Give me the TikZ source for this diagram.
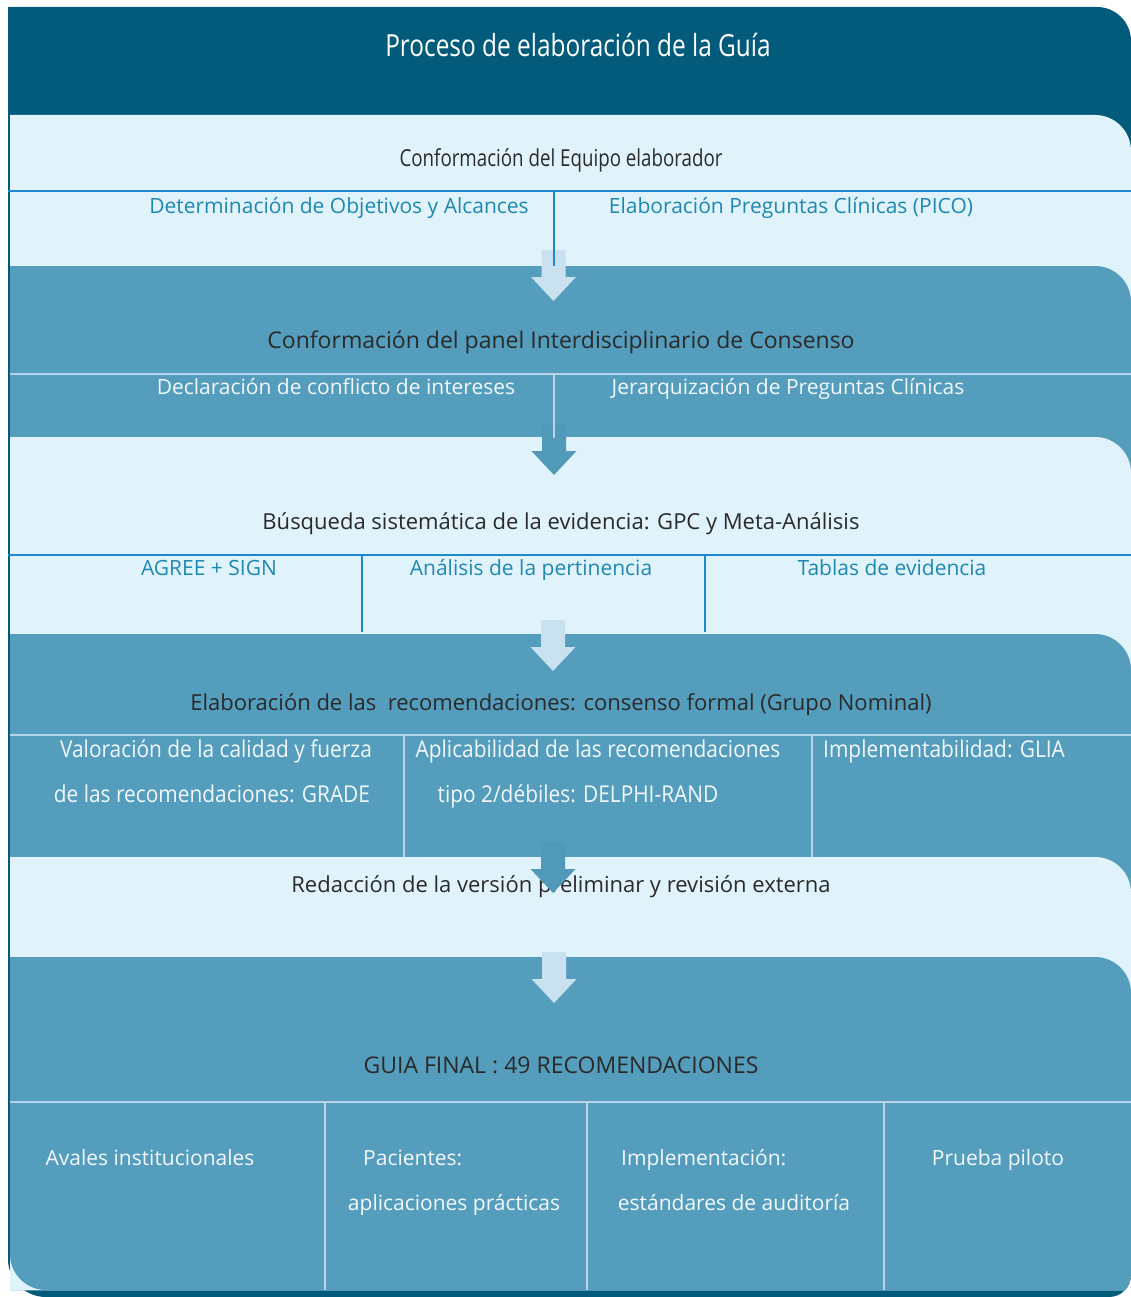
\documentclass[tikz,border=0pt]{standalone}
\usepackage{fontspec}
\setmainfont{Open Sans}
\newfontfamily\condfont[FakeStretch=0.8]{Open Sans}
\newfontfamily\semicond[FakeStretch=0.9]{Open Sans}
\definecolor{darkblue}{HTML}{035B7C}
\definecolor{lightband}{HTML}{E0F2FA}
\definecolor{midband}{HTML}{559DBC}
\definecolor{blueline}{HTML}{1E88CC}
\definecolor{paleline}{HTML}{B6D3EA}
\definecolor{bluetext}{HTML}{1F88B0}
\definecolor{darktext}{HTML}{2A2A2A}
\definecolor{whitetext}{HTML}{F2F8FB}
\definecolor{arrlight}{HTML}{C9E1EF}
\definecolor{arrmid}{HTML}{5099B9}
\newcommand\flowarrow[3]{% color, cx, top
  \fill[#1] (#2-12,#3) -- (#2+12,#3) -- (#2+12,#3+27) -- (#2+22.5,#3+27)
    -- (#2,#3+51) -- (#2-22.5,#3+27) -- (#2-12,#3+27) -- cycle;}
\tikzset{
  txt/.style={inner sep=0pt, text height=0.72em, text depth=0.2em, font=\fontsize{21}{25}\selectfont},
  dk/.style={txt, text=darktext, font=\fontsize{23}{27}\selectfont},
  dks/.style={txt, text=darktext, font=\fontsize{22}{26}\selectfont},
  bl/.style={txt, text=bluetext},
  wh/.style={txt, text=whitetext},
  cond/.style={font=\condfont\fontsize{23.4}{27}\selectfont},
  semi/.style={font=\semicond\fontsize{23.2}{27}\selectfont},
  bandlight/.style={fill=lightband},
  bandmid/.style={fill=midband},
  bline/.style={draw=blueline, line width=2.5pt},
  pline/.style={draw=paleline, line width=2.2pt},
}
\begin{document}
\begin{tikzpicture}[x=1pt,y=-1pt]
\useasboundingbox (0,0) rectangle (1131,1297);
\fill[white] (0,0) rectangle (1131,1297);
% outer frame
\fill[darkblue] (8,7) [rounded corners=34]-- (1131,7) [rounded corners=22]-- (1131,1297) [rounded corners=38]-- (8,1297) [sharp corners]-- cycle;
\begin{scope}
\clip (8,7) [rounded corners=34]-- (1131,7) [rounded corners=22]-- (1131,1297) -- (0,1297) [sharp corners]-- (0,7) -- cycle;
% bands
\fill[bandlight] (10,115) [rounded corners=36]-- (1131,115) [sharp corners]-- (1131,1290) -- (10,1290) -- cycle;
\fill[bandmid] (10,266) [rounded corners=36]-- (1131,266) [sharp corners]-- (1131,1290) -- (10,1290) -- cycle;
\fill[bandlight] (10,437) [rounded corners=36]-- (1131,437) [sharp corners]-- (1131,1290) -- (10,1290) -- cycle;
\fill[bandmid] (10,634) [rounded corners=36]-- (1131,634) [sharp corners]-- (1131,1290) -- (10,1290) -- cycle;
\fill[bandlight] (10,857) [rounded corners=36]-- (1131,857) [sharp corners]-- (1131,1290) -- (10,1290) -- cycle;
\fill[bandmid] (10,957) [rounded corners=36]-- (1131,957) [sharp corners]-- (1131,1290) [rounded corners=36]-- (10,1290) [sharp corners]-- cycle;
\end{scope}
% texts
\node[txt, text=white, font=\condfont\fontsize{30.5}{36}\selectfont] (title) at (578,54) {Proceso de elaboración de la Guía};
\node[dk, cond] (s1) at (561,164) {Conformación del Equipo elaborador};
\node[bl] (s1a) at (339,211) {Determinación de Objetivos y Alcances};
\node[bl] (s1b) at (791,211) {Elaboración Preguntas Clínicas (PICO)};
\node[dk] (s2) at (561,346) {Conformación del panel Interdisciplinario de Consenso};
\node[wh] (s2a) at (336,392) {Declaración de conflicto de intereses};
\node[wh] (s2b) at (788,392) {Jerarquización de Preguntas Clínicas};
\node[dks] (s3) at (561,527) {Búsqueda sistemática de la evidencia: GPC y Meta-Análisis};
\node[bl] (s3a) at (209,573) {AGREE + SIGN};
\node[bl] (s3b) at (531,573) {Análisis de la pertinencia};
\node[bl] (s3c) at (892,573) {Tablas de evidencia};
\node[dks] (s4) at (561,708) {Elaboración de las\ \ recomendaciones: consenso formal (Grupo Nominal)};
\node[wh, semi] (s4a1) at (216,755) {Valoración de la calidad y fuerza};
\node[wh, semi] (s4a2) at (212,800) {de las recomendaciones: GRADE};
\node[wh, semi] (s4b1) at (598,755) {Aplicabilidad de las recomendaciones};
\node[wh, semi] (s4b2) at (578,800) {tipo 2/débiles: DELPHI-RAND};
\node[wh, semi, anchor=west] (s4c) at (823,755) {Implementabilidad: GLIA};
\node[dks] (s5) at (561,890) {Redacción de la versión preliminar y revisión externa};
\node[dk] (s6) at (561,1071) {GUIA FINAL : 49 RECOMENDACIONES};
\node[wh] (s6a) at (150,1163) {Avales institucionales};
\node[wh, anchor=west] (s6b1) at (363,1163) {Pacientes:};
\node[wh] (s6b2) at (454,1208) {aplicaciones prácticas};
\node[wh, anchor=west] (s6c1) at (621,1163) {Implementación:};
\node[wh] (s6c2) at (734,1208) {estándares de auditoría};
\node[wh] (s6d) at (998,1163) {Prueba piloto};
% arrows
\flowarrow{arrlight}{553.5}{250}
\flowarrow{arrmid}{554}{424}
\flowarrow{arrlight}{553}{620}
\flowarrow{arrmid}{553}{842}
\flowarrow{arrlight}{554}{952}
% divider lines
\draw[bline] (8,191) -- (1131,191);
\draw[blueline, line width=2pt] (554,191) -- (554,266);
\draw[pline] (10,374) -- (1131,374);
\draw[paleline, line width=2pt] (554,374) -- (554,438);
\draw[bline] (8,555) -- (1131,555);
\draw[blueline, line width=2pt] (362,555) -- (362,632);
\draw[blueline, line width=2pt] (705,555) -- (705,632);
\draw[pline] (10,735) -- (1131,735);
\draw[paleline, line width=2pt] (404,735) -- (404,857);
\draw[paleline, line width=2pt] (812,735) -- (812,857);
\draw[pline] (10,1102) -- (1131,1102);
\draw[paleline, line width=2pt] (325,1102) -- (325,1290);
\draw[paleline, line width=2pt] (587,1102) -- (587,1290);
\draw[paleline, line width=2pt] (884,1102) -- (884,1290);
\end{tikzpicture}
\end{document}
